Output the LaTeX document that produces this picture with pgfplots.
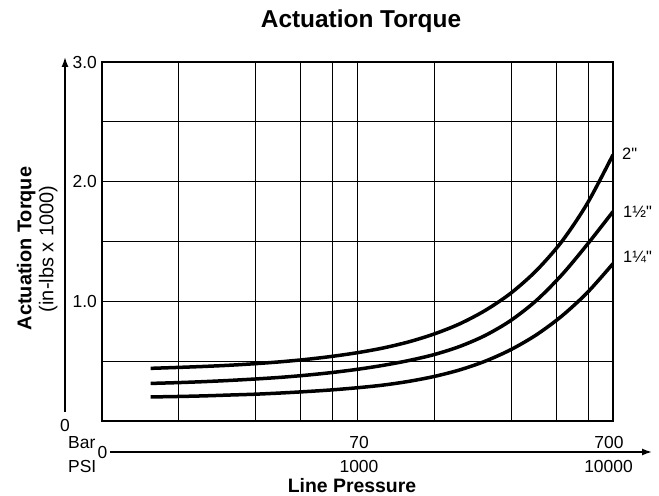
\documentclass[border=0pt]{standalone}
\usepackage{fontspec}
\setmainfont{Liberation Sans}
\newfontfamily\rawfont{Liberation Sans}
\usepackage{pgfplots}
\pgfplotsset{compat=1.18}
\usetikzlibrary{arrows.meta}
\newcommand\tk{\fontsize{17.5}{20}\selectfont}
\begin{document}
\begin{tikzpicture}
\path[use as bounding box] (-102bp,-75bp) rectangle (557bp,421bp);
\begin{axis}[
  at={(0,0)}, anchor=south west,
  scale only axis, width=511bp, height=359bp,
  xmode=log, xmin=100, xmax=10000, ymin=0, ymax=3,
  xtick={200,400,600,800,1000,2000,4000,6000,8000},
  xticklabels={},
  ytick={0.5,1,1.5,2,2.5,3},
  yticklabels={,1.0,,2.0,,3.0},
  grid=major,
  major grid style={black, line width=1bp},
  axis line style={black, line width=1.4bp},
  major tick length=0pt,
  yticklabel style={font=\tk, inner sep=0pt, xshift=-5bp},
]
% 2"
\addplot[black, line width=3.5bp, smooth] coordinates {
(155,0.44) (200,0.448) (251,0.456) (316,0.466) (398,0.479) (501,0.495) (631,0.515) (794,0.540) (1000,0.571) (1259,0.610) (1585,0.661) (1995,0.727) (2512,0.812) (3162,0.924) (3981,1.068) (5012,1.257) (6310,1.501) (7943,1.820) (10000,2.225)};
% 1 1/2"
\addplot[black, line width=3.5bp, smooth] coordinates {
(155,0.314) (200,0.321) (251,0.329) (316,0.339) (398,0.351) (501,0.365) (631,0.383) (794,0.405) (1000,0.432) (1259,0.465) (1585,0.505) (1995,0.555) (2512,0.623) (3162,0.715) (3981,0.840) (5012,1.007) (6310,1.222) (7943,1.477) (10000,1.75)};
% 1 1/4"
\addplot[black, line width=3.5bp, smooth] coordinates {
(155,0.201) (200,0.205) (251,0.210) (316,0.217) (398,0.224) (501,0.234) (631,0.246) (794,0.260) (1000,0.278) (1259,0.300) (1585,0.331) (1995,0.372) (2512,0.427) (3162,0.500) (3981,0.596) (5012,0.720) (6310,0.878) (7943,1.074) (10000,1.315)};
\end{axis}
\node[font=\bfseries\fontsize{24.5}{28}\selectfont, anchor=base, inner sep=0pt] at (259bp,393bp) {Actuation Torque};
\node[font=\bfseries\fontsize{20}{24}\selectfont, rotate=90, anchor=base, inner sep=0pt] at (-70.5bp,172.5bp) {Actuation Torque};
\node[font=\fontsize{20}{24}\selectfont, rotate=90, anchor=base, inner sep=0pt] at (-48.7bp,172bp) {(in-lbs x 1000)};
\draw[line width=1.5bp, -{Latex[length=10bp,width=7bp]}] (-37bp,9bp) -- (-37bp,364bp);
\node[font=\tk, anchor=base, inner sep=0pt] at (-37bp,-10bp) {0};
\node[font=\tk, anchor=base west, inner sep=0pt] at (-34bp,-27bp) {Bar};
\node[font=\tk, anchor=base west, inner sep=0pt] at (-34bp,-51bp) {PSI};
\node[font=\tk, anchor=base, inner sep=0pt] at (0.5bp,-37.7bp) {0};
\draw[line width=1.5bp, -{Latex[length=10bp,width=7bp]}] (8bp,-31bp) -- (550bp,-31bp);
\node[font=\tk, anchor=base, inner sep=0pt] at (257bp,-27bp) {70};
\node[font=\tk, anchor=base, inner sep=0pt] at (507bp,-27bp) {700};
\node[font=\tk, anchor=base, inner sep=0pt] at (257bp,-51bp) {1000};
\node[font=\tk, anchor=base, inner sep=0pt] at (506.5bp,-51bp) {10000};
\node[font=\bfseries\fontsize{19.5}{22}\selectfont, anchor=base, inner sep=0pt] at (250bp,-71.5bp) {Line Pressure};
\node[font=\rawfont\fontsize{16.5}{19}\selectfont, anchor=west, inner sep=0pt] at (520bp,267bp) {2"};
\node[font=\rawfont\fontsize{16.5}{19}\selectfont, anchor=west, inner sep=0pt] at (521bp,209bp) {1½"};
\node[font=\rawfont\fontsize{16.5}{19}\selectfont, anchor=west, inner sep=0pt] at (521bp,164bp) {1¼"};
\end{tikzpicture}
\end{document}
